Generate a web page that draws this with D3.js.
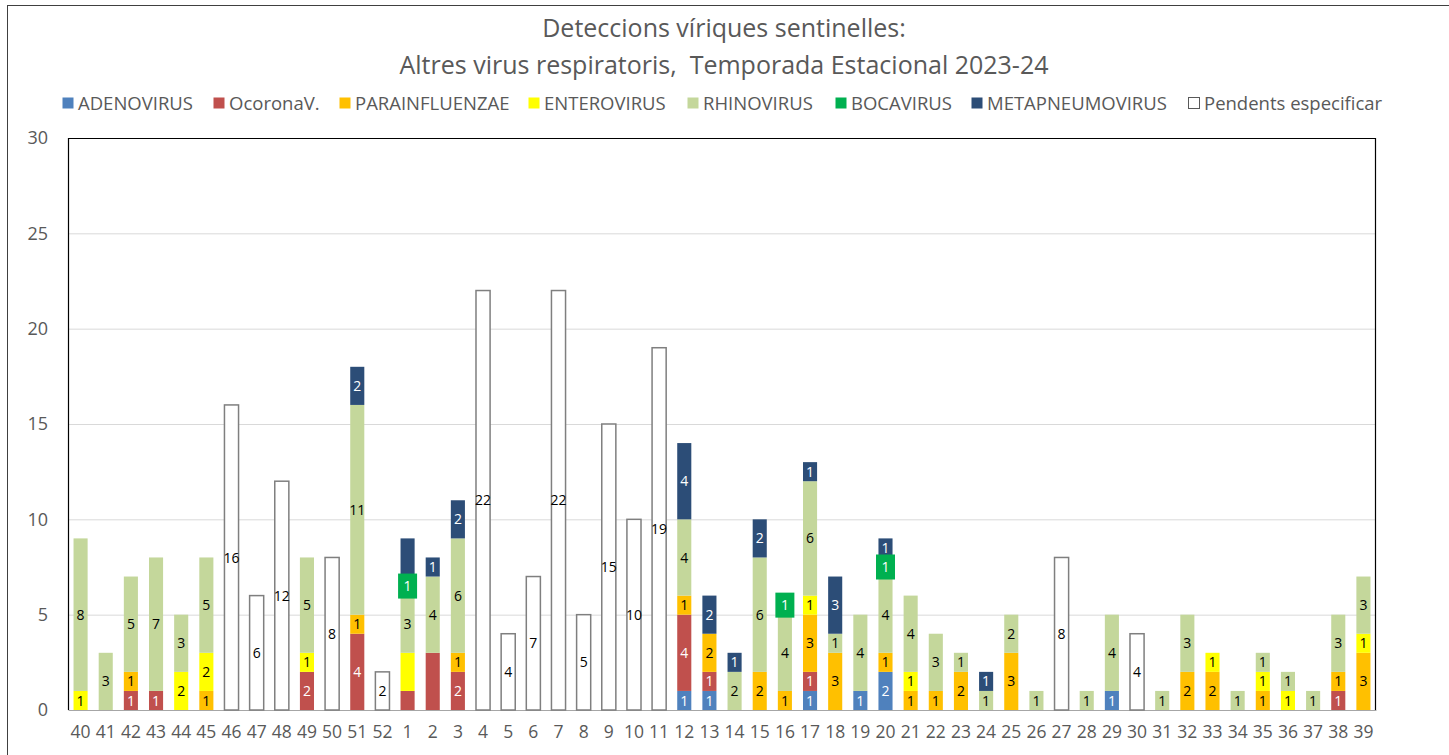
<!DOCTYPE html>
<html><head><meta charset="utf-8">
<script src="https://cdn.jsdelivr.net/npm/d3@7"></script>
<style>body{margin:0;background:#fff;} svg{display:block;}</style>
</head><body>
<svg id="c" width="1449" height="755"></svg>
<script>
const weeks = [40,41,42,43,44,45,46,47,48,49,50,51,52, 1,2,3,4,5,6,7,8,9,10,11,12,13, 14,15,16,17,18,19,20,21,22,23,24,25,26, 27,28,29,30,31,32,33,34,35,36,37,38,39].map(String);
const adeno    = [0,0,0,0,0,0,0,0,0,0,0,0,0, 0,0,0,0,0,0,0,0,0,0,0,1,1, 0,0,0,1,0,1,2,0,0,0,0,0,0, 0,0,1,0,0,0,0,0,0,0,0,0,0];
const ocorona  = [0,0,1,1,0,0,0,0,0,2,0,4,0, 1,3,2,0,0,0,0,0,0,0,0,4,1, 0,0,0,1,0,0,0,0,0,0,0,0,0, 0,0,0,0,0,0,0,0,0,0,0,1,0];
const parainf  = [0,0,1,0,0,1,0,0,0,0,0,1,0, 0,0,1,0,0,0,0,0,0,0,0,1,2, 0,2,1,3,3,0,1,1,1,2,0,3,0, 0,0,0,0,0,2,2,0,1,0,0,1,3];
const entero   = [1,0,0,0,2,2,0,0,0,1,0,0,0, 2,0,0,0,0,0,0,0,0,0,0,0,0, 0,0,0,1,0,0,0,1,0,0,0,0,0, 0,0,0,0,0,0,1,0,1,1,0,0,1];
const rhino    = [8,3,5,7,3,5,0,0,0,5,0,11,0, 3,4,6,0,0,0,0,0,0,0,0,4,0, 2,6,4,6,1,4,4,4,3,1,1,2,1, 0,1,4,0,1,3,0,1,1,1,1,3,3];
const boca     = [0,0,0,0,0,0,0,0,0,0,0,0,0, 1,0,0,0,0,0,0,0,0,0,0,0,0, 0,0,1,0,0,0,1,0,0,0,0,0,0, 0,0,0,0,0,0,0,0,0,0,0,0,0];
const metapn   = [0,0,0,0,0,0,0,0,0,0,0,2,0, 2,1,2,0,0,0,0,0,0,0,0,4,2, 1,2,0,1,3,0,1,0,0,0,1,0,0, 0,0,0,0,0,0,0,0,0,0,0,0,0];
const pendents = [0,0,0,0,0,0,16,6,12,0,8,0,2, 0,0,0,22,4,7,22,5,15,10,19,0,0, 0,0,0,0,0,0,0,0,0,0,0,0,0, 8,0,0,4,0,0,0,0,0,0,0,0,0];
const seriesNames = ["ADENOVIRUS","OcoronaV.","PARAINFLUENZAE","ENTEROVIRUS","RHINOVIRUS","BOCAVIRUS","METAPNEUMOVIRUS","Pendents especificar"];
const seriesValues = [adeno, ocorona, parainf, entero, rhino, boca, metapn, pendents];
const seriesColors = ["#4f81bd","#c0504d","#ffc000","#ffff00","#c4d79b","#00b050","#2c4d77","#ffffff"];
const labelColors  = ["#fff","#fff","#000","#000","#000","#fff","#fff","#000"];
const hiddenLabels = [["1","OcoronaV."],["1","ENTEROVIRUS"],["1","METAPNEUMOVIRUS"],["2","OcoronaV."]];
const yTicks = [0,5,10,15,20,25,30];
const titleLines = ["Deteccions víriques sentinelles:","Altres virus respiratoris,  Temporada Estacional 2023-24"];

const svg = d3.select("#c");
const font = "'Open Sans', 'Noto Sans', sans-serif";
const M = {l:68, r:1376, t:138, b:710};

// outer frame
svg.append("rect").attr("x",7.5).attr("y",5.5).attr("width",1460).attr("height",800)
  .attr("fill","none").attr("stroke","#404040").attr("stroke-width",1);

// title
svg.selectAll("text.title").data(titleLines).join("text").attr("class","title")
  .attr("x",724).attr("y",(d,i)=>37+i*37).attr("text-anchor","middle")
  .attr("xml:space","preserve").style("white-space","pre")
  .attr("font-family",font).attr("font-size",25).attr("fill","#595959").text(d=>d);

const x = d3.scaleBand().domain(weeks).range([M.l,M.r]).paddingInner(0.44).paddingOuter(0.22);
const y = d3.scaleLinear().domain([0,30]).range([M.b,M.t]);

// gridlines
svg.append("g").selectAll("line").data(yTicks.filter(t=>t>0&&t<30)).join("line")
  .attr("x1",M.l).attr("x2",M.r).attr("y1",d=>y(d)+0.5).attr("y2",d=>y(d)+0.5)
  .attr("stroke","#d9d9d9").attr("stroke-width",1);

// y axis labels
const yAxis = d3.axisLeft(y).tickValues(yTicks).tickSize(0).tickPadding(20);
const gy = svg.append("g").attr("transform",`translate(${M.l},0)`).call(yAxis);
gy.select(".domain").remove();
gy.selectAll("text").attr("font-family",font).attr("font-size",18).attr("fill","#595959");

// x axis
const xAxis = d3.axisBottom(x).tickSize(0).tickPadding(16);
const gx = svg.append("g").attr("transform",`translate(0,${M.b})`).call(xAxis);
gx.select(".domain").attr("stroke","#a6a6a6");
gx.selectAll("text").attr("font-family",font).attr("font-size",17.5).attr("fill","#595959");

// stack
const rows = weeks.map((w,i)=>{const o={week:w}; seriesNames.forEach((s,j)=>o[s]=seriesValues[j][i]); return o;});
const stack = d3.stack().keys(seriesNames)(rows);
const hidden = new Set(hiddenLabels.map(d=>d[0]+"|"+d[1]));

const gBars = svg.append("g");
stack.forEach((layer,j)=>{
  const name = seriesNames[j];
  const segs = layer.map((d,i)=>({w:weeks[i], y0:d[0], y1:d[1], v:d[1]-d[0]})).filter(d=>d.v>0);
  gBars.selectAll(null).data(segs).join("rect")
    .attr("x",d=>x(d.w)).attr("width",x.bandwidth())
    .attr("y",d=>y(d.y1)).attr("height",d=>y(d.y0)-y(d.y1))
    .attr("fill",seriesColors[j])
    .attr("stroke", name==="Pendents especificar" ? "#7f7f7f" : "none")
    .attr("stroke-width",1.5);
});
// labels
stack.forEach((layer,j)=>{
  const name = seriesNames[j];
  const segs = layer.map((d,i)=>({w:weeks[i], y0:d[0], y1:d[1], v:d[1]-d[0]}))
    .filter(d=>d.v>0 && !hidden.has(d.w+"|"+name));
  if(name==="BOCAVIRUS"){
    gBars.selectAll(null).data(segs).join("rect")
      .attr("x",d=>x(d.w)+x.bandwidth()/2-9.5).attr("width",19)
      .attr("y",d=>(y(d.y0)+y(d.y1))/2-12.5).attr("height",25)
      .attr("fill",seriesColors[j]);
  }
  gBars.selectAll(null).data(segs).join("text")
    .attr("x",d=>x(d.w)+x.bandwidth()/2).attr("y",d=>(y(d.y0)+y(d.y1))/2)
    .attr("dy","0.36em").attr("text-anchor","middle")
    .attr("font-family",font).attr("font-size",14).attr("fill",labelColors[j])
    .text(d=>d.v);
});

// plot frame (left, top, right)
svg.append("path").attr("d",`M${M.l+0.5},${M.b}V${M.t+0.5}H${M.r-0.5}V${M.b}`)
  .attr("fill","none").attr("stroke","#000").attr("stroke-width",1.2);

// legend
const legX = [62,213,339,528,687,835,971,1188];
const lg = svg.append("g");
seriesNames.forEach((s,j)=>{
  lg.append("rect").attr("x",legX[j]+0.5).attr("y",97.5).attr("width",11).attr("height",11)
    .attr("fill",seriesColors[j]).attr("stroke", j===7 ? "#595959" : "none");
  lg.append("text").attr("x",legX[j]+16).attr("y",103).attr("dy","0.36em")
    .attr("font-family",font).attr("font-size",18.5).attr("fill","#595959").text(s);
});
</script>
</body></html>
